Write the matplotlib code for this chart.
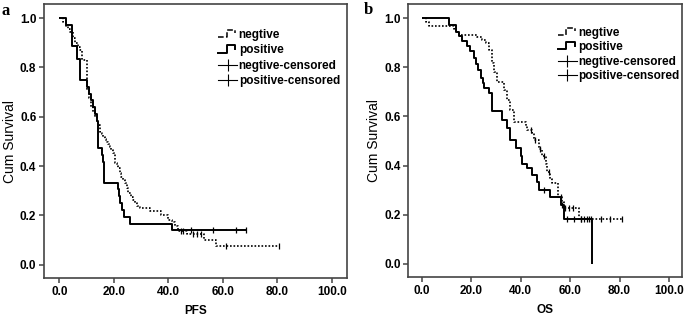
import numpy as np
import matplotlib
matplotlib.use("Agg")
import matplotlib.pyplot as plt
from matplotlib.lines import Line2D
from matplotlib.legend_handler import HandlerBase

plt.rcParams["font.family"] = ["Liberation Sans", "DejaVu Sans"]

# Kaplan-Meier steps: event time -> survival after it
# panel a (PFS)
pfs_neg_t = [0, 1.5, 2.5, 3.3, 3.9, 5.1, 5.7, 6.9, 7.5, 8.2, 10.0, 10.9, 11.8, 12.5, 13.1,
             13.7, 14.3, 14.9, 15.5, 16.1, 16.7, 17.3, 17.9, 18.5, 19.1, 19.7, 20.4, 21.0,
             21.6, 22.2, 22.8, 23.5, 24.1, 24.7, 25.2, 26.4, 27.0, 27.7, 28.5, 29.5, 33.2,
             37.4, 39.9, 41.2, 42.3, 43.5, 46.7, 53.0, 57.5]
pfs_neg_s = [1.0, 0.985, 0.97, 0.958, 0.945, 0.918, 0.898, 0.884, 0.870, 0.83, 0.709, 0.675,
             0.641, 0.62, 0.60, 0.583, 0.567, 0.54, 0.53, 0.519, 0.508, 0.499, 0.489, 0.479,
             0.466, 0.452, 0.412, 0.40, 0.391, 0.37, 0.357, 0.344, 0.333, 0.313, 0.29, 0.275,
             0.262, 0.25, 0.24, 0.23, 0.216, 0.202, 0.182, 0.175, 0.155, 0.138, 0.123, 0.101,
             0.074]
pfs_neg_end = 80.7
pfs_neg_cens = [44.5, 45.5, 49.0, 50.5, 52.0, 61.2, 80.7]

pfs_pos_t = [0, 2.5, 4.8, 6.4, 7.6, 10.0, 10.8, 11.5, 12.3, 13.0, 13.7, 14.3, 15.5, 15.9,
             16.5, 21.6, 22.0, 22.4, 22.9, 23.6, 26.1, 41.5]
pfs_pos_s = [1.0, 0.972, 0.889, 0.833, 0.75, 0.722, 0.694, 0.667, 0.639, 0.611, 0.583, 0.472,
             0.444, 0.417, 0.333, 0.306, 0.278, 0.25, 0.222, 0.194, 0.167, 0.139]
pfs_pos_end = 68.5
pfs_pos_cens = [48.4, 56.3, 64.9, 68.5]

# panel b (OS)
os_neg_t = [0, 1.5, 3.0, 12.9, 13.9, 14.9, 22.3, 24.4, 25.7, 27.0, 28.4, 29.1, 30.4, 33.1,
            34.5, 35.8, 37.2, 41.9, 42.6, 44.6, 45.3, 47.3, 48.7, 50.0, 50.7, 52.0, 52.7,
            55.0, 56.8, 57.4, 63.5]
os_neg_s = [1.0, 0.985, 0.969, 0.954, 0.945, 0.932, 0.925, 0.912, 0.898, 0.871, 0.816, 0.782,
            0.741, 0.707, 0.667, 0.626, 0.578, 0.56, 0.544, 0.531, 0.503, 0.466, 0.438, 0.408,
            0.374, 0.347, 0.327, 0.272, 0.251, 0.227, 0.181]
os_neg_end = 81.1
os_neg_cens = [44.0, 45.8, 47.8, 49.5, 51.3, 56.3, 57.9, 59.5, 61.0, 64.5, 65.5, 67.0, 68.5,
               72.5, 76.0, 81.1]

os_pos_t = [0, 10.8, 13.9, 15.0, 16.2, 18.0, 19.6, 21.0, 22.0, 22.8, 23.7, 24.5, 25.0, 27.0,
            28.4, 32.5, 34.5, 35.8, 37.9, 39.9, 40.6, 42.6, 44.6, 46.7, 47.3, 52.0, 56.1,
            57.4, 69.0]
os_pos_s = [1.0, 0.972, 0.944, 0.928, 0.905, 0.886, 0.866, 0.838, 0.815, 0.79, 0.757, 0.735,
            0.716, 0.695, 0.62, 0.586, 0.553, 0.505, 0.47, 0.437, 0.408, 0.388, 0.36, 0.333,
            0.302, 0.272, 0.238, 0.181, 0.0]
os_pos_end = 69.0
os_pos_cens = [49.3, 56.6, 58.7, 61.5, 64.5, 67.5]

xticks = [0, 20, 40, 60, 80, 100]
yticks = [0.0, 0.2, 0.4, 0.6, 0.8, 1.0]
labels = ["negtive", "positive", "negtive-censored", "positive-censored"]

DOT = (0, (1, 1.1))
SPINE = "#444444"


class StepHandler(HandlerBase):
    def create_artists(self, legend, orig_handle, xdescent, ydescent, width, height,
                       fontsize, trans):
        x0, y0 = -xdescent, -ydescent
        xs = [x0, x0 + 0.45 * width, x0 + 0.45 * width, x0 + 0.9 * width, x0 + 0.9 * width]
        ys = [y0 + 0.1 * height, y0 + 0.1 * height, y0 + 0.95 * height, y0 + 0.95 * height,
              y0 + 0.55 * height]
        ln = Line2D(xs, ys, color="black", lw=orig_handle.get_linewidth(),
                    linestyle=orig_handle.get_linestyle())
        ln.set_transform(trans)
        return [ln]


def km(ax, t, s, end, cens, ls, lw):
    t = np.asarray(t)
    s = np.asarray(s)
    ax.step(np.append(t, end), np.append(s, s[-1]), where="post", color="black",
            lw=lw, linestyle=ls, solid_capstyle="butt")
    c = np.asarray(cens)
    cy = s[np.searchsorted(t, c, side="right") - 1]
    ax.plot(c, cy, linestyle="none", marker="|", markersize=4, mew=0.9, color="black")


def panel(rect, neg, pos, xlabel, letter, leg_anchor, leg_spacing, letter_xy):
    ax = fig.add_axes(rect)
    km(ax, *neg, ls=DOT, lw=1.2)
    km(ax, *pos, ls="-", lw=1.4)
    ax.set_xlim(-5.6, 105.4)
    ax.set_ylim(-0.055, 1.057)
    ax.set_xticks(xticks)
    ax.set_xticklabels([f"{v:.1f}" for v in xticks])
    ax.set_yticks(yticks)
    ax.set_yticklabels([f"{v:.1f}" for v in yticks])
    for side in ["left", "bottom", "top", "right"]:
        ax.spines[side].set_color(SPINE)
        ax.spines[side].set_linewidth(1.2)
    ax.tick_params(direction="out", length=3.5, width=1.1, color=SPINE, pad=2,
                   labelsize=8.5)
    for lab in ax.get_xticklabels() + ax.get_yticklabels():
        lab.set_fontweight("bold")
    ax.set_xlabel(xlabel, fontsize=8.5, fontweight="bold", labelpad=5)
    ax.set_ylabel("Cum Survival", fontsize=10, labelpad=2)

    h_neg = Line2D([], [], color="black", lw=1.1, linestyle=DOT)
    h_pos = Line2D([], [], color="black", lw=1.4, linestyle="-")
    h_nc = Line2D([], [], color="black", lw=0.8, marker="|", markersize=8, mew=0.8)
    h_pc = Line2D([], [], color="black", lw=0.8, marker="|", markersize=8, mew=0.8)
    ax.legend([h_neg, h_pos, h_nc, h_pc], labels, loc="upper left",
              bbox_to_anchor=leg_anchor, frameon=False, numpoints=1,
              handlelength=1.6, handletextpad=0.15, labelspacing=leg_spacing,
              borderpad=0, borderaxespad=0,
              prop={"size": 8.5, "weight": "bold"},
              handler_map={h_neg: StepHandler(), h_pos: StepHandler()})
    fig.text(letter_xy[0], letter_xy[1], letter, family="Liberation Serif",
             fontweight="bold", fontsize=12, ha="left", va="top")
    return ax


fig = plt.figure(figsize=(6.85, 3.18), dpi=100)
panel([0.0642, 0.125, 0.442, 0.862],
      (pfs_neg_t, pfs_neg_s, pfs_neg_end, pfs_neg_cens),
      (pfs_pos_t, pfs_pos_s, pfs_pos_end, pfs_pos_cens),
      "PFS", "a", (0.575, 0.91), 0.3, (0.002, 0.99))
panel([0.596, 0.128, 0.400, 0.859],
      (os_neg_t, os_neg_s, os_neg_end, os_neg_cens),
      (os_pos_t, os_pos_s, os_pos_end, os_pos_cens),
      "OS", "b", (0.546, 0.918), 0.22, (0.531, 0.995))

fig.savefig("out.png", dpi=100)
